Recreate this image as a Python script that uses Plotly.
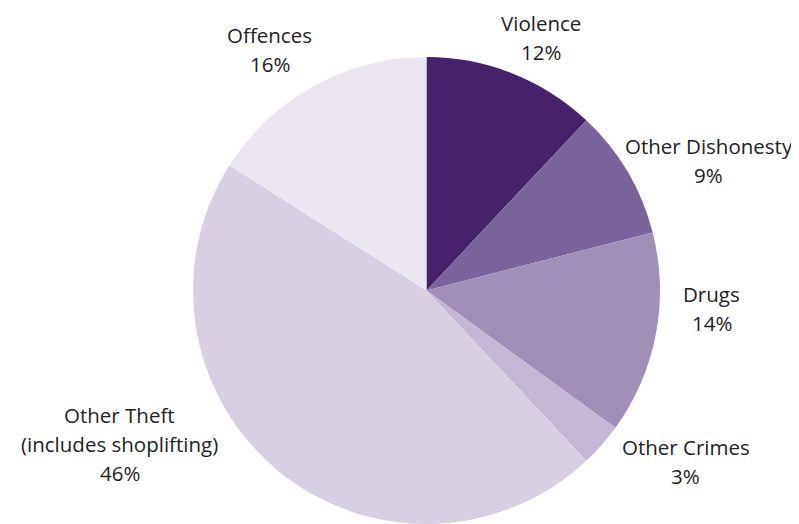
import math
import plotly.graph_objects as go

categories = ["Violence", "Other Dishonesty", "Drugs", "Other Crimes",
              "Other Theft<br>(includes shoplifting)", "Offences"]
values = [12, 9, 14, 3, 46, 16]
colors = ["#46216c", "#79649b", "#a090b8", "#c4b7d3", "#d8cfe3", "#eae5ee"]

# label nudges (pixels) from the slice's outer-edge midpoint
label_dx = [29, 81.5, 56, 84, -158, -44.5]
label_dy = [-36, -11.6, -26, 17, -26, -36.4]

W, H = 799, 524
PAGE = 8  # page body margin of the browser
cx, cy, r = 426.5 - PAGE, 290.5 - PAGE, 233.5
LINE = 29  # line pitch of label text, px
FONT = dict(family="Open Sans", size=20.5, color="#222222")

fig = go.Figure(go.Pie(
    labels=categories,
    values=values,
    sort=False,
    direction="clockwise",
    rotation=0,
    marker=dict(colors=colors, line=dict(width=0)),
    textinfo="none",
    showlegend=False,
    hoverinfo="label+value",
    domain=dict(x=[(cx - r) / W, (cx + r) / W],
                y=[(H - cy - r) / H, (H - cy + r) / H]),
))

total = sum(values)
cum = 0
for lab, v, dx, dy in zip(categories, values, label_dx, label_dy):
    mid = (cum + v / 2) / total * 2 * math.pi
    cum += v
    ex = cx + r * math.sin(mid)
    ey = cy - r * math.cos(mid)
    px, py = ex + dx, ey + dy
    lines = lab.split("<br>") + [f"{v}%"]
    n = len(lines)
    for i, line in enumerate(lines):
        ly = py + (i - (n - 1) / 2) * LINE
        fig.add_annotation(
            x=px / W, y=1 - ly / H, xref="paper", yref="paper",
            text=line, showarrow=False, borderpad=0,
            xanchor="center", yanchor="middle", align="center",
            font=FONT,
        )

fig.update_layout(
    width=W, height=H,
    margin=dict(l=0, r=0, t=0, b=0),
    paper_bgcolor="white",
    plot_bgcolor="white",
)

fig.write_html("out.html")
